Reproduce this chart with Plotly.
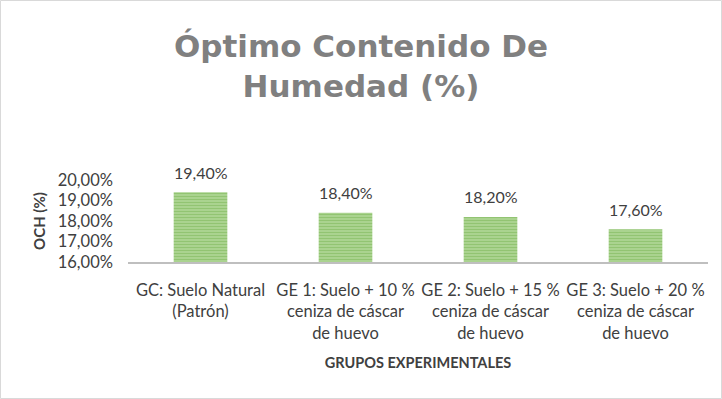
import plotly.graph_objects as go

categories = [
    "GC: Suelo Natural<br>(Patrón)",
    "GE 1: Suelo + 10 %<br>ceniza de cáscar<br>de huevo",
    "GE 2: Suelo + 15 %<br>ceniza de cáscar<br>de huevo",
    "GE 3: Suelo + 20 %<br>ceniza de cáscar<br>de huevo",
]
values = [0.194, 0.184, 0.182, 0.176]
y_ticks = [0.16, 0.17, 0.18, 0.19, 0.20]

W, H = 722, 399
L, R, T, B = 128, 14, 180, 137
pw, ph = W - L - R, H - T - B

fig = go.Figure(go.Bar(
    x=categories, y=values,
    marker=dict(color="#A9D18E", line=dict(width=0),
                pattern=dict(shape="-", fgcolor="#70AD47", bgcolor="#B5DA9C", size=3, solidity=0.55)),
    cliponaxis=False,
))

for c, v in zip(categories, values):
    fig.add_annotation(x=c, y=v, text=f"{v*100:.2f}%".replace(".", ","),
                       showarrow=False, yshift=20, yanchor="middle",
                       font=dict(family="Lato", size=16, color="#404040"))

fig.update_layout(
    width=W, height=H,
    margin=dict(l=L, r=R, t=T, b=B),
    paper_bgcolor="white", plot_bgcolor="white",
    separators=",.",
    bargap=0.63,
    showlegend=False,
    title=dict(text="Óptimo Contenido De<br>Humedad (%)", x=0.5, xanchor="center",
               y=1 - 57 / H, yanchor="middle", yref="container",
               font=dict(family="DejaVu Sans", size=31, color="#808080", weight=700)),
    xaxis=dict(showline=True, linecolor="#BFBFBF", linewidth=2, ticks="",
               ticklabelstandoff=12,
               tickfont=dict(family="Lato", size=16.5, color="#404040"),
               title=dict(text="<b>GRUPOS EXPERIMENTALES</b>", standoff=16,
                          font=dict(family="Lato", size=14.5, color="#404040"))),
    yaxis=dict(range=[0.16, 0.20], tickvals=y_ticks, tickformat=".2%", showgrid=False,
               zeroline=False, showline=False, ticks="",
               ticklabelstandoff=14,
               tickfont=dict(family="Lato", size=16.5, color="#404040"),
               title=dict(text="<b>OCH (%)</b>", standoff=8,
                          font=dict(family="Lato", size=15, color="#404040"))),
    shapes=[dict(type="rect", xref="paper", yref="paper",
                 x0=(0.5 - L) / pw, x1=(W - 0.5 - L) / pw,
                 y0=(T + ph - (H - 0.5)) / ph, y1=(T + ph - 0.5) / ph,
                 line=dict(color="#D9D9D9", width=1), layer="below")],
)

fig.write_html("out.html")
